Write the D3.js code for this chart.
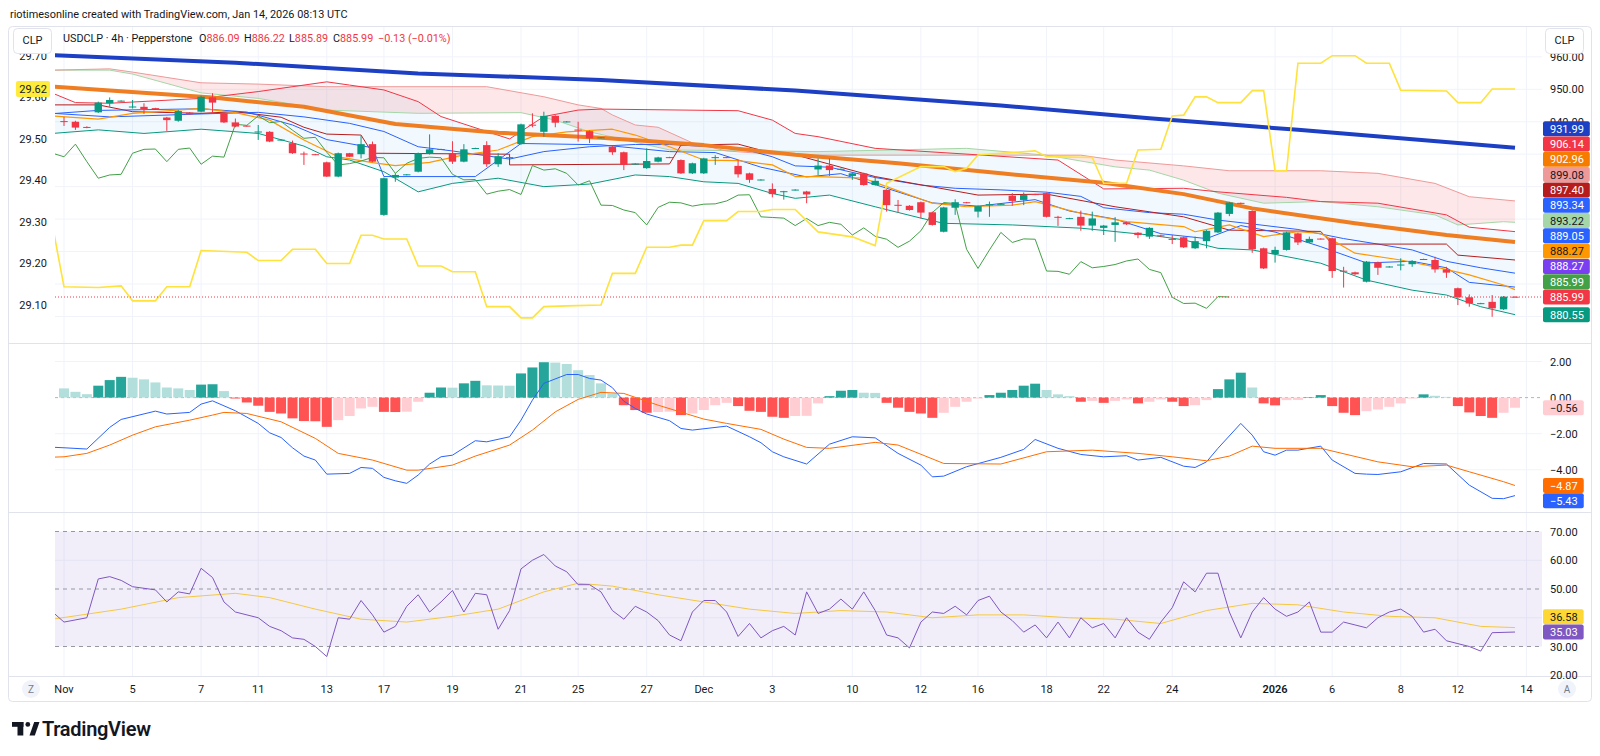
<!DOCTYPE html>
<html>
<head>
<meta charset="utf-8">
<script src="https://cdn.jsdelivr.net/npm/d3@7"></script>
<style>
  body { margin: 0; background: #fff; }
  svg text { font-family: Roboto, "Noto Sans", sans-serif; fill: #131722; }
</style>
</head>
<body>
<svg id="chart" width="1600" height="756"></svg>
<script>
// USDCLP 4h candles, bar 0 = Nov 3
var open = [940.2,940.0,938.4,942.9,945.7,946.3,944.5,944.6,944.2,941.3,940.3,942.8,943.1,947.5,942.6,939.8,938.8,936.8,936.9,934.3,
  933.4,930.2,930.0,927.5,923.1,930.3,930.0,933.1,911.3,922.8,923.6,924.6,930.1,931.4,930.3,927.7,931.7,932.8,926.9,928.9,
  933.1,939.1,936.9,941.8,939.9,937.6,937.1,935.0,932.3,930.6,926.9,925.7,927.7,929.1,928.2,924.1,924.1,928.9,929.1,926.4,
  924.1,922.0,919.3,918.4,918.9,918.5,925.3,926.5,925.3,923.3,924.1,920.5,919.0,914.4,914.1,915.2,912.1,906.1,913.5,915.2,
  912.3,914.2,914.5,917.2,915.9,917.7,918.0,910.7,910.1,910.7,908.0,907.3,908.2,909.0,905.8,904.6,905.0,903.9,904.4,901.0,
  903.2,905.9,911.6,915.0,912.5,901.0,899.2,900.5,905.6,902.8,904.0,904.1,894.1,893.6,890.7,896.7,895.2,895.8,896.1,897.5,
  897.4,894.5,888.7,885.9,883.9,884.5,882.2,886.09];
var high = [941.5,940.3,938.6,946.2,947.5,946.6,946.7,945.7,944.3,941.5,943.6,943.0,948.0,948.8,942.8,941.0,938.9,939.0,937.1,934.6,
  934.2,930.8,930.1,927.7,930.5,930.4,935.6,933.9,922.8,924.1,923.9,930.5,936.1,931.7,934.0,933.1,932.0,934.0,930.3,929.2,
  939.4,942.6,943.1,942.0,940.2,940.0,937.3,935.3,932.5,930.8,927.2,931.8,929.2,929.2,928.4,927.4,928.9,929.7,929.2,928.2,
  924.3,922.3,921.0,918.7,919.2,918.7,928.7,928.7,925.6,924.3,924.3,923.1,919.2,915.9,914.3,915.4,912.3,913.8,916.1,915.3,
  914.2,915.4,914.8,918.0,918.2,917.8,918.2,911.0,910.4,912.6,912.3,908.2,910.6,909.2,906.0,907.5,905.2,905.1,904.6,904.6,
  906.6,912.2,915.3,915.1,912.7,901.2,901.5,906.1,905.8,904.6,904.1,904.3,895.3,893.8,897.1,896.9,895.5,897.9,897.3,897.8,
  898.4,895.3,888.9,886.8,884.2,886.6,886.3,886.22];
var low = [938.7,937.5,938.0,942.7,944.6,946.2,944.1,942.4,943.9,937.2,940.0,942.1,942.9,942.4,939.6,938.3,938.5,934.4,933.7,934.2,
  930.1,926.7,929.7,923.0,922.9,929.1,928.7,927.5,911.0,921.5,923.5,924.4,929.9,931.3,927.0,927.5,931.6,926.1,926.1,928.8,
  932.9,938.3,935.4,938.3,939.8,933.9,933.4,934.9,929.8,925.1,926.8,925.5,927.5,928.8,923.9,923.9,923.9,926.7,928.8,922.8,
  921.2,921.9,916.7,916.0,918.8,914.9,923.6,923.3,925.2,922.1,920.3,920.3,912.3,912.0,912.6,910.2,908.0,905.9,911.3,914.9,
  910.5,910.7,914.4,914.1,914.3,917.4,910.5,907.9,910.0,906.4,906.4,905.1,903.0,908.2,904.1,903.9,904.5,902.3,901.1,900.8,
  901.0,905.7,910.9,914.7,899.6,894.6,896.6,900.3,902.0,902.6,903.7,891.9,888.9,892.8,890.5,892.8,895.1,894.2,895.3,897.4,
  893.5,891.9,883.5,883.0,883.8,879.9,882.0,885.89];
var close = [940.0,938.2,938.2,945.9,946.7,946.5,944.7,943.9,944.0,940.5,943.3,942.3,947.7,945.9,939.8,938.5,938.6,937.0,933.9,934.5,
  930.3,930.0,929.8,923.1,930.3,929.2,933.1,927.7,922.6,923.6,923.8,930.3,931.5,931.6,927.7,931.5,931.9,926.9,929.4,929.1,
  939.2,938.9,941.8,939.7,940.1,937.4,934.9,935.2,930.6,926.7,927.1,927.9,929.0,928.9,924.1,927.2,928.7,929.1,928.9,923.8,
  922.1,922.2,917.7,918.6,919.1,917.6,926.5,925.1,925.5,924.1,920.5,921.8,914.3,914.2,912.8,912.0,908.2,913.6,915.2,915.0,
  914.0,914.6,914.7,915.6,917.4,917.5,910.7,910.5,910.3,908.0,910.2,908.0,909.0,908.4,905.1,907.3,904.7,903.8,901.3,903.2,
  906.4,912.0,915.1,914.8,900.7,894.8,900.5,905.9,902.8,903.9,903.8,894.0,893.9,893.0,896.9,895.0,895.4,896.0,897.1,897.7,
  894.5,893.5,885.9,884.0,884.1,882.5,886.1,885.99];

// overlay lines, [bar, value] read at the vertices
var sma200 = [[-1,960.5],[15,958.2],[31,954.9],[47,952.9],[64,949.6],[82,945.0],[95,941.1],[108,937.5],[127,931.99]];
var sma100 = [[-1,950.8],[13,947.5],[21,944.6],[29,939.3],[38,936.6],[47,935.1],[56,932.8],[64,929.8],[73,927.2],[82,924.1],
  [91,921.2],[98,917.7],[104,913.3],[113,908.7],[121,905.1],[127,902.96]];
var ema20 = [[-1,941.8],[3,940.8],[6,942.6],[12,944.1],[15,942.8],[18,940.5],[21,934.4],[24,929.2],[27,927.4],[29,926.5],[32,927.5],
  [35,929.8],[38,931.3],[41,935.4],[44,936.9],[48,937.7],[50,935.9],[53,932.3],[56,928.2],[59,928.0],[62,926.7],[64,923.1],
  [66,923.1],[70,922.6],[72,920.0],[76,914.9],[79,913.8],[83,914.3],[85,915.4],[89,911.8],[93,909.2],[98,907.7],[99,906.1],
  [102,908.2],[105,904.6],[108,906.1],[110,905.6],[113,899.5],[117,897.4],[120,895.3],[123,892.8],[126,889.7],[127,888.27]];
var bbUpper = [[-1,948.8],[1,945.9],[4,945.7],[12,947.2],[17,949.3],[23,952.3],[25,951.3],[28,949.8],[31,946.2],[33,941.6],
  [39,934.7],[42,941.6],[45,943.6],[47,943.9],[59,943.4],[62,940.5],[64,936.4],[66,935.4],[71,931.8],[80,929.8],[87,928.2],
  [91,919.3],[98,919.5],[101,918.4],[107,916.7],[110,915.4],[115,914.9],[121,911.3],[123,907.5],[127,906.14]];
var bbBasis = [[-1,942.6],[4,941.5],[12,942.4],[17,942.9],[21,941.5],[25,939.5],[28,937.0],[31,932.3],[34,931.0],[39,928.5],
  [42,930.8],[46,932.3],[50,933.0],[53,933.0],[56,932.4],[59,932.0],[62,929.2],[64,926.4],[67,926.0],[71,922.8],[75,920.5],
  [78,919.5],[82,919.0],[86,918.3],[89,917.0],[91,913.5],[95,912.0],[98,911.5],[101,909.7],[104,908.5],[108,906.8],[112,904.0],
  [115,902.3],[118,900.5],[121,897.0],[124,895.0],[127,893.34]];
var bbLower = [[-1,936.4],[3,937.5],[7,936.4],[12,937.7],[17,936.4],[21,932.5],[23,929.2],[25,928.2],[28,924.6],[31,918.4],
  [34,921.0],[38,922.6],[42,920.0],[46,920.8],[50,923.6],[53,923.1],[56,921.5],[59,921.0],[62,917.9],[64,916.4],[67,917.4],
  [71,913.8],[75,910.3],[77,908.7],[83,908.2],[89,907.2],[95,905.1],[98,903.6],[101,901.0],[104,900.5],[110,896.4],[114,891.2],
  [118,888.1],[121,886.6],[124,883.0],[127,880.55]];
var ichiConv = [[-1,942.5],[3,943.5],[12,944.0],[16,943.0],[20,939.0],[23,934.5],[27,932.0],[28,923.1],[36,923.1],[40,933.3],
  [47,932.9],[53,930.8],[57,930.5],[61,926.0],[65,923.0],[68,924.0],[72,919.5],[76,915.0],[80,914.0],[85,916.0],[88,912.5],
  [92,910.0],[96,905.5],[100,904.0],[103,908.0],[106,906.0],[110,901.5],[114,896.5],[118,897.0],[121,895.0],[123,890.5],[127,889.05]];
var ichiBase = [[-1,945.2],[3,945.2],[6,943.1],[12,942.6],[15,943.1],[19,941.4],[21,938.3],[23,936.2],[26,935.9],[27,930.3],
  [39,930.0],[39,926.7],[53,927.0],[54,932.8],[59,933.1],[62,930.3],[64,929.8],[71,923.1],[80,917.4],[86,917.7],[92,913.8],
  [98,910.7],[102,906.6],[110,906.2],[111,902.3],[121,902.3],[122,898.9],[127,897.4]];
var leadA = [[-1,955.9],[4,955.9],[6,954.7],[12,948.9],[17,947.2],[23,943.6],[31,942.6],[40,942.8],[43,940.5],[46,936.9],
  [47,936.1],[53,931.3],[66,930.8],[79,931.8],[86,929.7],[92,926.1],[95,925.1],[98,922.0],[101,918.0],[105,914.9],[110,915.4],
  [115,913.8],[120,911.3],[122,908.2],[126,909.2],[127,909.0]];
var leadB = [[-1,955.9],[4,956.3],[6,955.3],[12,952.0],[17,951.6],[23,950.8],[37,950.8],[42,947.7],[45,945.2],[47,944.1],
  [48,942.1],[50,939.0],[52,938.3],[55,933.5],[58,931.0],[62,930.0],[65,929.7],[80,929.7],[89,929.7],[92,928.2],[98,926.4],
  [102,924.9],[110,924.9],[115,924.1],[120,921.0],[123,916.9],[127,915.6]];
// left scale overlay (yellow)
var leftLine = [[-1,29.29],[0,29.144],[3,29.142],[5,29.146],[6,29.110],[8,29.110],[9,29.144],[11,29.144],[12,29.231],[16,29.227],
  [17,29.207],[19,29.207],[20,29.234],[22,29.234],[23,29.200],[25,29.200],[26,29.268],[27,29.268],[28,29.259],[30,29.259],
  [31,29.194],[33,29.194],[34,29.180],[36,29.180],[37,29.096],[39,29.096],[40,29.069],[41,29.069],[42,29.096],[44,29.098],
  [47,29.100],[48,29.176],[50,29.176],[51,29.239],[53,29.239],[54,29.244],[55,29.244],[56,29.303],[58,29.303],[59,29.325],
  [61,29.325],[62,29.330],[64,29.330],[66,29.276],[69,29.264],[71,29.243],[72,29.393],[75,29.433],[77,29.433],[78,29.421],
  [79,29.429],[80,29.461],[85,29.471],[86,29.457],[90,29.455],[91,29.393],[93,29.393],[94,29.473],[96,29.475],[97,29.555],
  [98,29.557],[99,29.601],[100,29.601],[101,29.587],[103,29.587],[104,29.616],[105,29.616],[106,29.423],[107,29.423],
  [108,29.682],[110,29.682],[111,29.700],[113,29.700],[114,29.682],[116,29.682],[117,29.617],[121,29.615],[122,29.587],
  [124,29.587],[125,29.62],[127,29.62]];

// MACD
var macdHist = [0.51,0.32,0.19,0.66,0.97,1.15,1.10,1.01,0.84,0.56,0.51,0.42,0.72,0.74,0.36,-0.05,-0.27,-0.45,-0.79,-0.88,
  -1.15,-1.30,-1.31,-1.62,-1.25,-1.02,-0.60,-0.51,-0.79,-0.80,-0.78,-0.23,0.27,0.56,0.55,0.79,0.93,0.68,0.67,0.66,
  1.34,1.67,1.96,1.94,1.86,1.52,1.25,0.79,0.23,-0.42,-0.69,-0.84,-0.80,-0.78,-0.97,-0.88,-0.69,-0.42,-0.29,-0.47,
  -0.73,-0.79,-1.06,-1.12,-1.02,-1.01,-0.32,0.08,0.38,0.42,0.27,0.26,-0.29,-0.56,-0.79,-0.88,-1.12,-0.84,-0.51,-0.23,
  -0.05,0.14,0.27,0.42,0.66,0.77,0.42,0.18,0.08,-0.23,-0.18,-0.29,-0.18,-0.10,-0.32,-0.23,-0.10,-0.23,-0.47,-0.42,
  -0.14,0.47,1.01,1.38,0.56,-0.32,-0.43,-0.14,-0.13,0.02,0.14,-0.47,-0.84,-0.97,-0.75,-0.66,-0.51,-0.32,-0.05,0.18,
  0.10,0.04,-0.47,-0.82,-1.02,-1.12,-0.84,-0.56];
var macdLine = [[-1,-2.75],[0,-2.78],[2,-2.85],[4,-1.65],[5,-1.21],[8,-0.75],[9,-0.91],[11,-0.82],[12,-0.36],[13,-0.18],
  [15,-0.73],[17,-1.43],[18,-1.95],[19,-2.21],[20,-2.78],[21,-3.24],[22,-3.46],[23,-4.24],[25,-4.20],[26,-3.87],[27,-3.92],
  [28,-4.42],[29,-4.61],[30,-4.75],[31,-4.29],[32,-3.68],[33,-3.28],[34,-3.19],[36,-2.39],[37,-2.45],[39,-2.17],[40,-1.25],
  [41,-0.14],[42,0.79],[44,1.28],[45,1.28],[46,1.06],[47,0.97],[48,0.55],[49,-0.20],[50,-0.60],[51,-0.91],[53,-1.28],
  [54,-1.71],[55,-1.80],[58,-1.58],[60,-2.17],[61,-2.50],[62,-3.00],[63,-3.28],[65,-3.68],[67,-2.58],[69,-2.17],[71,-2.23],
  [73,-3.09],[75,-3.74],[76,-4.39],[77,-4.35],[79,-3.83],[82,-3.31],[84,-2.87],[85,-2.32],[87,-2.81],[89,-3.15],[91,-3.28],
  [93,-3.22],[94,-3.46],[96,-3.31],[98,-3.80],[99,-3.87],[100,-3.56],[101,-2.81],[103,-1.43],[104,-2.08],[105,-3.00],
  [106,-3.19],[107,-2.91],[108,-2.91],[110,-2.69],[111,-3.46],[113,-4.20],[114,-4.24],[115,-4.26],[117,-4.11],[119,-3.65],
  [121,-3.68],[123,-4.85],[125,-5.58],[126,-5.60],[127,-5.43]];
var macdSignal = [[-1,-3.30],[0,-3.28],[2,-3.09],[4,-2.63],[6,-2.08],[8,-1.62],[11,-1.25],[13,-0.97],[14,-0.82],[16,-0.88],
  [19,-1.34],[22,-2.26],[24,-3.09],[27,-3.46],[30,-4.02],[31,-4.02],[34,-3.74],[36,-3.24],[39,-2.63],[41,-1.80],[43,-0.79],
  [45,-0.10],[47,0.29],[49,0.23],[52,-0.42],[56,-1.19],[58,-1.43],[61,-1.76],[63,-2.30],[65,-2.76],[67,-2.81],[71,-2.48],
  [73,-2.63],[77,-3.65],[82,-3.68],[86,-3.00],[90,-2.91],[94,-3.09],[97,-3.28],[100,-3.50],[102,-3.24],[104,-2.69],
  [106,-2.81],[110,-2.81],[115,-3.56],[118,-3.83],[121,-3.74],[123,-4.11],[126,-4.66],[127,-4.87]];

// RSI 14 and its moving average
var rsi = [[-1,42],[0,38.5],[2,40],[3,53.5],[4,54.3],[5,53],[6,50.8],[8,49.7],[9,45.5],[10,49],[11,48.3],[12,57.2],[13,54],
  [14,45.5],[15,42],[17,40],[18,37],[19,35.5],[20,33],[21,32.5],[22,30],[23,26.5],[24,40],[25,39.5],[26,46],[27,41],[28,35],
  [29,37],[30,44],[31,48],[32,42],[33,45.5],[34,49.5],[35,42],[36,48.5],[37,48],[38,36],[39,42.5],[40,57],[41,60],[42,62],
  [43,58],[44,56],[45,51.5],[46,51.5],[47,49],[48,42.5],[49,39.5],[50,44],[51,42],[52,39],[53,34],[54,32],[55,42],[56,46],
  [57,46],[58,42],[59,33.5],[60,38],[61,33],[62,35.5],[63,37],[64,34],[65,49],[66,41.5],[67,43],[68,46.5],[69,43],[70,49],
  [71,42.5],[72,34],[73,33],[74,29.5],[75,38.5],[76,42],[77,41.5],[78,44],[79,41],[80,46],[81,47.5],[82,42],[83,39],[84,35],
  [85,37.5],[86,33],[87,38.5],[88,33],[89,40],[90,36.5],[91,38],[92,33],[93,40],[94,35],[95,32.5],[96,38.5],[97,43.5],
  [98,52.5],[99,49],[100,55.5],[101,55.5],[102,42],[103,33],[104,42],[105,47],[106,43],[107,40.5],[108,42],[109,45.5],
  [110,35],[111,35],[112,38.5],[113,37.5],[114,36.5],[115,40],[116,42],[117,43],[118,40.5],[119,35],[120,36],[121,32],
  [122,31],[123,30],[124,28.4],[125,34.8],[127,35.03]];
var rsiMa = [[-1,39.5],[5,43],[10,47],[15,48.5],[18,47],[22,43],[26,39.5],[30,38.5],[34,40.5],[38,43],[42,49],[45,52],[48,51],
  [52,48],[56,45.5],[60,43],[64,41.5],[68,42.5],[72,42],[76,40],[80,41],[84,41],[88,40],[92,39.5],[96,38],[100,42.5],[104,45],
  [108,44.5],[112,42],[116,40.5],[120,40],[124,37],[127,36.58]];

// time axis
var tickIdx = [0,6,12,17,23,28,34,40,45,51,56,62,69,75,80,86,91,97,106,111,117,122,128];
var tickLbl = ["Nov","5","7","11","13","17","19","21","25","27","Dec","3","10","12","16","18","22","24","2026","6","8","12","14"];
var mainTicks = [960,950,940,930,920,910,900,890,880];
var leftTicks = [29.1,29.2,29.3,29.4,29.5,29.6,29.7];
var macdTicks = [2,0,-2,-4];
var rsiTicks = [70,60,50,30,20];

var svg = d3.select("#chart");
var plotL = 55, plotR = 1542;
var x = d3.scaleLinear().domain([0, 127]).range([64, 1515]);
var yMain = d3.scaleLinear().domain([950, 880]).range([89.3, 316.45]);
var yLeft = d3.scaleLinear().domain([29.1, 29.7]).range([305, 55.7]);
var yMacd = d3.scaleLinear().domain([0, -4]).range([397.6, 469.8]);
var yRsi = d3.scaleLinear().domain([70, 30]).range([531.5, 646.5]);

var fmt = function(v){ return d3.format(".2f")(v).replace("-", "\u2212") }

var defs = svg.append("defs");
var clip = function(id, top, bottom){
  defs.append("clipPath").attr("id", id).append("rect")
    .attr("x", plotL).attr("y", top).attr("width", plotR - plotL).attr("height", bottom - top);
}
clip("clipMain", 27, 343);
clip("clipMacd", 344, 512);
clip("clipRsi", 513, 676);

var lineOf = function(ys){
  return d3.line().x(function(d){ return x(d[0]) }).y(function(d){ return ys(d[1]) });
}

// header
svg.append("text").attr("x", 10).attr("y", 18).style("font-size", "10.9px").text("riotimesonline created with TradingView.com, Jan 14, 2026 08:13 UTC");
svg.append("rect").attr("x", 8.5).attr("y", 26.5).attr("width", 1583).attr("height", 675)
  .attr("rx", 4).attr("fill", "none").attr("stroke", "#e0e3eb");

// grid
var grid = svg.append("g");
tickIdx.forEach(function(t){
  grid.append("line").attr("x1", x(t)).attr("x2", x(t)).attr("y1", 27).attr("y2", 676).attr("stroke", "#f0f3fa");
});
mainTicks.forEach(function(t){
  grid.append("line").attr("x1", plotL).attr("x2", plotR).attr("y1", yMain(t)).attr("y2", yMain(t)).attr("stroke", "#f0f3fa");
});
[2, -2, -4].forEach(function(t){
  grid.append("line").attr("x1", plotL).attr("x2", plotR).attr("y1", yMacd(t)).attr("y2", yMacd(t)).attr("stroke", "#f0f3fa");
});
[60, 40].forEach(function(t){
  grid.append("line").attr("x1", plotL).attr("x2", plotR).attr("y1", yRsi(t)).attr("y2", yRsi(t)).attr("stroke", "#f0f3fa");
});
[343.5, 512.5, 676.5].forEach(function(yy){
  svg.append("line").attr("x1", 9).attr("x2", 1591).attr("y1", yy).attr("y2", yy).attr("stroke", "#e0e3eb");
});

// main pane
var main = svg.append("g").attr("clip-path", "url(#clipMain)");
var lm = lineOf(yMain);

// bollinger fill
main.append("path").attr("d", lm(bbUpper.concat(bbLower.slice().reverse())) + "Z")
  .attr("fill", "rgba(33,150,243,0.06)");

// ichimoku cloud, coloured by which span is on top
var cloud = lm(leadA.concat(leadB.slice().reverse())) + "Z";
var above = function(span){ return lm(span.concat([[span[span.length-1][0], 1000], [span[0][0], 1000]])) + "Z" };
defs.append("clipPath").attr("id", "aboveA").append("path").attr("d", above(leadA));
defs.append("clipPath").attr("id", "aboveB").append("path").attr("d", above(leadB));
main.append("g").attr("clip-path", "url(#aboveA)").append("path").attr("d", cloud).attr("fill", "rgba(242,54,69,0.12)");
main.append("g").attr("clip-path", "url(#aboveB)").append("path").attr("d", cloud).attr("fill", "rgba(67,160,71,0.12)");

var lines = [
  [leadA, "#A5D6A7", 1], [leadB, "#EF9A9A", 1],
  [bbUpper, "#F23645", 1], [bbLower, "#089981", 1], [bbBasis, "#2962FF", 1],
  [ichiBase, "#B71C1C", 1], [ichiConv, "#2962FF", 1], [ema20, "#FF9800", 1.2],
  [sma100, "#EF7D22", 4], [sma200, "#1C3FC4", 4]
];
lines.forEach(function(l){
  main.append("path").attr("d", lm(l[0])).attr("fill", "none")
    .attr("stroke", l[1]).attr("stroke-width", l[2]).attr("stroke-linejoin", "round");
});
// lagging span = closes drawn 25 bars back
main.append("path").attr("d", lm(close.map(function(c, i){ return [i - 25, c] })))
  .attr("fill", "none").attr("stroke", "#43A047").attr("stroke-width", 1);
main.append("path").attr("d", lineOf(yLeft)(leftLine)).attr("fill", "none")
  .attr("stroke", "#FFE23B").attr("stroke-width", 1.6);

// candles
var bw = 7.4;
close.forEach(function(c, i){
  var up = c >= open[i];
  var col = up ? "#089981" : "#F23645";
  main.append("line").attr("x1", x(i)).attr("x2", x(i)).attr("y1", yMain(high[i])).attr("y2", yMain(low[i]))
    .attr("stroke", col).attr("stroke-width", 1);
  var top = yMain(Math.max(open[i], c)), bot = yMain(Math.min(open[i], c));
  main.append("rect").attr("x", x(i) - bw / 2).attr("y", top).attr("width", bw)
    .attr("height", Math.max(1, bot - top)).attr("fill", col);
});
main.append("line").attr("x1", plotL).attr("x2", plotR)
  .attr("y1", yMain(close[127])).attr("y2", yMain(close[127]))
  .attr("stroke", "#F23645").attr("stroke-dasharray", "1,2");

// macd pane
var macd = svg.append("g").attr("clip-path", "url(#clipMacd)");
macd.append("line").attr("x1", plotL).attr("x2", plotR).attr("y1", yMacd(0)).attr("y2", yMacd(0))
  .attr("stroke", "#b2b5be").attr("stroke-dasharray", "3,3");
macdHist.forEach(function(v, i){
  var prev = i > 0 ? macdHist[i - 1] : v + 0.01;
  var col = v >= 0 ? (v >= prev ? "#26A69A" : "#B2DFDB") : (v <= prev ? "#FF5252" : "#FFCDD2");
  var y0 = yMacd(0), y1 = yMacd(v);
  macd.append("rect").attr("x", x(i) - 5).attr("y", Math.min(y0, y1)).attr("width", 10)
    .attr("height", Math.max(0.5, Math.abs(y1 - y0))).attr("fill", col);
});
var lmacd = lineOf(yMacd);
macd.append("path").attr("d", lmacd(macdLine)).attr("fill", "none").attr("stroke", "#2962FF").attr("stroke-width", 1);
macd.append("path").attr("d", lmacd(macdSignal)).attr("fill", "none").attr("stroke", "#FF6D00").attr("stroke-width", 1);

// rsi pane
var rs = svg.append("g").attr("clip-path", "url(#clipRsi)");
rs.append("rect").attr("x", plotL).attr("width", plotR - plotL)
  .attr("y", yRsi(70)).attr("height", yRsi(30) - yRsi(70)).attr("fill", "rgba(126,87,194,0.1)");
[70, 50, 30].forEach(function(t){
  rs.append("line").attr("x1", plotL).attr("x2", plotR).attr("y1", yRsi(t)).attr("y2", yRsi(t))
    .attr("stroke", "#9598a1").attr("stroke-dasharray", "4,4");
});
var lrsi = lineOf(yRsi);
rs.append("path").attr("d", lrsi(rsiMa)).attr("fill", "none").attr("stroke", "#F5C842").attr("stroke-width", 1);
rs.append("path").attr("d", lrsi(rsi)).attr("fill", "none").attr("stroke", "#7E57C2").attr("stroke-width", 1);

// axes (ticks hidden under the price labels are left out)
var axis = svg.append("g").style("font-size", "11px");
var tickText = function(list, ys){
  list.forEach(function(t){
    axis.append("text").attr("x", 1550).attr("y", ys(t) + 4).text(fmt(t));
  });
}
tickText(mainTicks.slice(0, 3), yMain);
tickText(macdTicks, yMacd);
tickText(rsiTicks, yRsi);
leftTicks.forEach(function(t){
  axis.append("text").attr("x", 47).attr("y", yLeft(t) + 4).attr("text-anchor", "end").text(d3.format(".2f")(t));
});
tickIdx.forEach(function(t, k){
  axis.append("text").attr("x", x(t)).attr("y", 693).attr("text-anchor", "middle")
    .style("font-weight", tickLbl[k] == "2026" ? 600 : 400).text(tickLbl[k]);
});

// price labels on the right, pushed apart like the app does
var labelStack = function(list, ys, dir){
  list.forEach(function(d){ d.y = ys(d.v) });
  list.sort(function(a, b){ return a.y - b.y });
  var gap = 15.3;
  if (dir == "up") {
    for (var k = list.length - 2; k >= 0; k--) if (list[k].y > list[k+1].y - gap) list[k].y = list[k+1].y - gap;
  } else {
    for (var k = 1; k < list.length; k++) if (list[k].y < list[k-1].y + gap) list[k].y = list[k-1].y + gap;
  }
  list.forEach(function(d){
    var t = axis.append("text").attr("x", 1550).attr("y", d.y + 4).style("fill", d.fg).text(fmt(d.v));
    var w = t.node().getComputedTextLength();
    axis.insert("rect", function(){ return t.node() }).attr("x", 1543).attr("y", d.y - 7.5)
      .attr("width", w + 13).attr("height", 15).attr("rx", 2).attr("fill", d.bg);
  });
}
labelStack([
  {v: 931.99, bg: "#1C3FC4", fg: "#fff"}, {v: 906.14, bg: "#F23645", fg: "#fff"},
  {v: 902.96, bg: "#F57C00", fg: "#fff"}, {v: 899.08, bg: "#EF9A9A", fg: "#131722"},
  {v: 897.40, bg: "#B71C1C", fg: "#fff"}, {v: 893.34, bg: "#2962FF", fg: "#fff"},
  {v: 893.22, bg: "#A5D6A7", fg: "#131722"}, {v: 889.05, bg: "#2962FF", fg: "#fff"},
  {v: 888.27, bg: "#FF9800", fg: "#131722"}, {v: 888.27, bg: "#7B3FF2", fg: "#fff"},
  {v: 885.99, bg: "#43A047", fg: "#fff"}, {v: 885.99, bg: "#F23645", fg: "#fff"},
  {v: 880.55, bg: "#089981", fg: "#fff"}
], yMain, "up");
labelStack([
  {v: -0.56, bg: "#FFCDD2", fg: "#131722"}, {v: -4.87, bg: "#FF6D00", fg: "#fff"}, {v: -5.43, bg: "#2962FF", fg: "#fff"}
], yMacd, "down");
labelStack([
  {v: 36.58, bg: "#FDD835", fg: "#131722"}, {v: 35.03, bg: "#7E57C2", fg: "#fff"}
], yRsi, "up");

// left label of the yellow overlay
axis.append("rect").attr("x", 16).attr("y", yLeft(29.62) - 8).attr("width", 34).attr("height", 16).attr("rx", 2).attr("fill", "#FFEB3B");
axis.append("text").attr("x", 47).attr("y", yLeft(29.62) + 4).attr("text-anchor", "end").text("29.62");

// CLP buttons and legend
[[13, 28], [1545, 28]].forEach(function(p){
  svg.append("rect").attr("x", p[0] + 0.5).attr("y", p[1] + 0.5).attr("width", 38).attr("height", 25).attr("rx", 4)
    .attr("fill", "#fff").attr("stroke", "#e0e3eb");
  svg.append("text").attr("x", p[0] + 19.5).attr("y", p[1] + 15.5).attr("text-anchor", "middle").style("font-size", "11px").text("CLP");
});
var legend = svg.append("g").style("font-size", "10.8px");
legend.append("text").attr("x", 63).attr("y", 42).text("USDCLP \u00b7 4h \u00b7 Pepperstone");
[["O", "886.09", 199], ["H", "886.22", 244], ["L", "885.89", 289], ["C", "885.99", 333]].forEach(function(p){
  var t = legend.append("text").attr("x", p[2]).attr("y", 42);
  t.append("tspan").text(p[0]);
  t.append("tspan").style("fill", "#F23645").text(p[1]);
});
legend.append("text").attr("x", 378).attr("y", 42).style("fill", "#F23645").text("\u22120.13 (\u22120.01%)");

// bottom buttons
[[31, "Z"], [1567, "A"]].forEach(function(p){
  svg.append("circle").attr("cx", p[0]).attr("cy", 689).attr("r", 9).attr("fill", "#f0f3fa");
  svg.append("text").attr("x", p[0]).attr("y", 692.5).attr("text-anchor", "middle").style("font-size", "10px")
    .style("fill", "#787b86").text(p[1]);
});

// logo
var logo = svg.append("g").attr("fill", "#131722");
logo.append("rect").attr("x", 12).attr("y", 722).attr("width", 11.5).attr("height", 4.8);
logo.append("rect").attr("x", 17.5).attr("y", 722).attr("width", 5.8).attr("height", 13.5);
logo.append("circle").attr("cx", 27.8).attr("cy", 724.4).attr("r", 2.4);
logo.append("path").attr("d", "M29.5,735.5 L34.2,722 L39.5,722 L34.8,735.5 Z");
svg.append("text").attr("x", 42).attr("y", 735.5).style("font-size", "20px").style("font-weight", 600)
  .style("letter-spacing", "-0.3px").text("TradingView");
</script>
</body>
</html>
